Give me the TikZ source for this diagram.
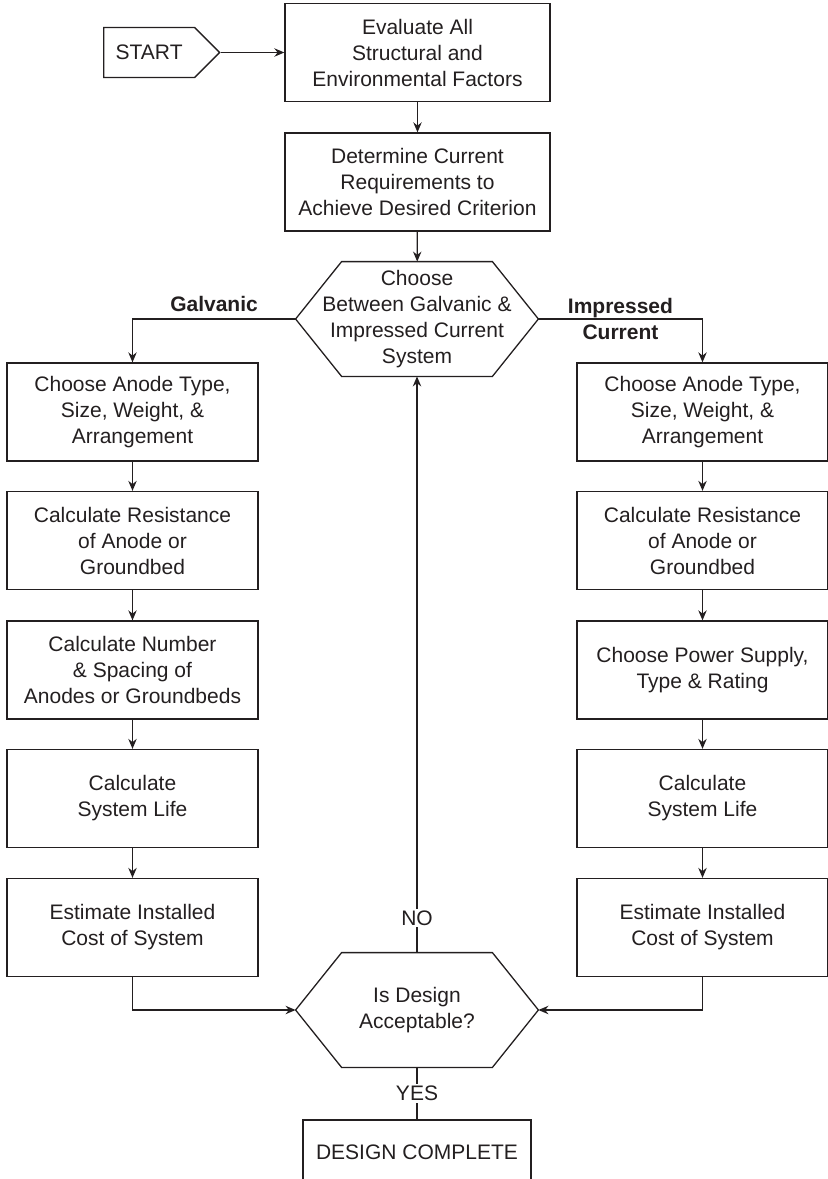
\documentclass[tikz,border=0pt]{standalone}
\usepackage{fontspec}
\setmainfont{Liberation Sans}
\usetikzlibrary{arrows.meta,shapes.symbols}
\definecolor{ink}{HTML}{231F20}

\begin{document}
\begin{tikzpicture}[
  x=0.5pt, y=-0.5pt,
  font=\fontsize{10.5}{13}\selectfont, color=ink,
  stepbox/.style={draw,line width=0.65pt,minimum height=49pt,align=center,inner sep=2pt},
  wide/.style={stepbox,minimum width=132.5pt},
  side/.style={stepbox,minimum width=125.5pt},
  choice/.style={minimum width=121pt,minimum height=57pt,align=center,inner sep=0pt,
    append after command={\pgfextra{\draw[line width=0.65pt] (\tikzlastnode.west)
      -- ([xshift=23pt]\tikzlastnode.north west) -- ([xshift=-23pt]\tikzlastnode.north east)
      -- (\tikzlastnode.east) -- ([xshift=-23pt]\tikzlastnode.south east)
      -- ([xshift=23pt]\tikzlastnode.south west) -- cycle;}}},
  arrow/.style={-{Stealth[length=5pt,width=4.2pt]},line width=0.65pt},
  tag/.style={fill=white,inner sep=1pt},
  branch/.style={font=\fontsize{10.5}{13}\bfseries\selectfont,align=center}
]
\useasboundingbox (0,0) rectangle (827,1179);

\node[signal,signal to=east,signal from=nowhere,draw,line width=0.65pt,
  minimum width=58pt,minimum height=25pt,anchor=west] (start) at (103,52.5) {START};
\node[wide] (evaluate) at (417.5,52.5) {Evaluate All\\Structural and\\Environmental Factors};
\node[wide] (current) at (417.5,182) {Determine Current\\Requirements to\\Achieve Desired Criterion};
\node[choice] (choose) at (417,319) {Choose\\Between Galvanic \&\\Impressed Current\\System};

% galvanic side
\node[side] (g1) at (132.5,412) {Choose Anode Type,\\Size, Weight, \&\\Arrangement};
\node[side] (g2) at (132.5,540.5) {Calculate Resistance\\of Anode or\\Groundbed};
\node[side] (g3) at (132.5,670) {Calculate Number\\\& Spacing of\\Anodes or Groundbeds};
\node[side] (g4) at (132.5,798.5) {Calculate\\System Life};
\node[side] (g5) at (132.5,927.5) {Estimate Installed\\Cost of System};

% impressed current side
\node[side] (i1) at (702.5,412) {Choose Anode Type,\\Size, Weight, \&\\Arrangement};
\node[side] (i2) at (702.5,540.5) {Calculate Resistance\\of Anode or\\Groundbed};
\node[side] (i3) at (702.5,670) {Choose Power Supply,\\Type \& Rating};
\node[side] (i4) at (702.5,798.5) {Calculate\\System Life};
\node[side] (i5) at (702.5,927.5) {Estimate Installed\\Cost of System};

\node[choice] (accept) at (417,1010) {Is Design\\Acceptable?};
\node[draw,line width=0.65pt,minimum width=114pt,minimum height=32pt] (done) at (417,1152) {DESIGN COMPLETE};

\draw[arrow] (start.east) -- (evaluate.west);
\draw[arrow] (evaluate) -- (current);
\draw[arrow] (current) -- (choose);
\draw[arrow] (choose.west) -| node[branch,above,pos=.25]{Galvanic} (g1.north);
\draw[arrow] (choose.east) -| node[branch,pos=.25]{Impressed\\Current} (i1.north);
\foreach \a/\b in {g1/g2,g2/g3,g3/g4,g4/g5,i1/i2,i2/i3,i3/i4,i4/i5}
  \draw[arrow] (\a) -- (\b);
\draw[arrow] (g5.south) |- (accept.west);
\draw[arrow] (i5.south) |- (accept.east);
\draw[arrow] (accept.north) -- node[tag,pos=.06]{NO} (choose.south);
\draw[line width=0.65pt] (accept.south) -- node[tag]{YES} (done.north);
\end{tikzpicture}
\end{document}
